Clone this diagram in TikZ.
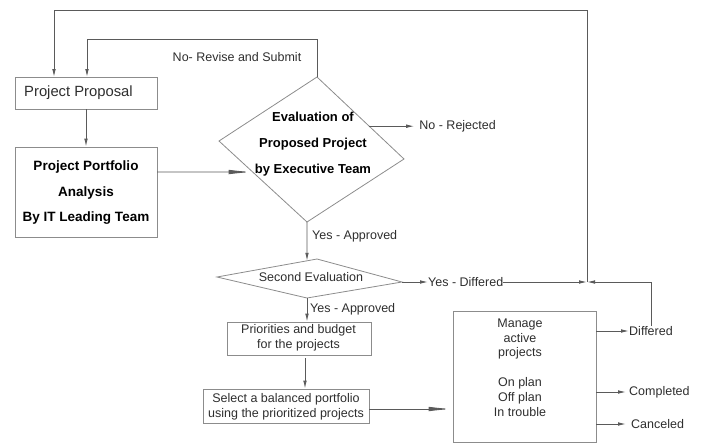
\documentclass[tikz,border=0pt]{standalone}
\usepackage{fontspec}
\setmainfont{Liberation Sans}
\usetikzlibrary{arrows.meta,calc}
\definecolor{linec}{HTML}{5A5A5A}
\definecolor{boxc}{HTML}{8C8C8C}
\definecolor{txtc}{HTML}{2E2E2E}
\begin{document}
\begin{tikzpicture}[x=1pt,y=-1pt,
  line/.style={draw=linec, line width=0.9pt},
  arr/.style={line, -{Latex[length=8pt,width=3.6pt]}},
  bigarr/.style={line, -{Latex[length=24pt,width=4.5pt]}},
  box/.style={draw=boxc, line width=0.8pt, rectangle, inner sep=0pt},
  dia/.style={draw=boxc, line width=0.8pt},
  lbl/.style={font=\fontsize{12.5}{15}\selectfont, text=txtc, inner sep=0pt},
  boldtxt/.style={font=\fontsize{13.5}{25.5}\selectfont\bfseries, text=black, inner sep=0pt, align=center},
  smalltxt/.style={font=\fontsize{12.5}{14.6}\selectfont, text=txtc, inner sep=0pt, align=center}
]
\useasboundingbox (0,0) rectangle (701,445);

% ---- boxes
\node[box, minimum width=142pt, minimum height=32pt] (pp) at (86,93) {};
\node[font=\fontsize{14.8}{17}\selectfont, text=txtc, inner sep=0pt, anchor=west] (pptxt) at (24,93) {Project Proposal};

\node[box, minimum width=142pt, minimum height=90pt] (ppa) at (86,192) {};
\node[boldtxt] (ppatxt) at (86,193) {Project Portfolio\\Analysis\\By IT Leading Team};

\node[box, minimum width=144pt, minimum height=33pt] (pri) at (299,338.5) {};
\node[smalltxt] (pritxt) at (298.5,338) {Priorities and budget\\for the projects};

\node[box, minimum width=166pt, minimum height=34pt] (sel) at (286,406) {};
\node[smalltxt] (seltxt) at (286,406.5) {Select a balanced portfolio\\using the prioritized projects};

\node[box, minimum width=143pt, minimum height=131pt] (man) at (524.5,376.5) {};
\node[smalltxt, font=\fontsize{12.5}{14.8}\selectfont] (mantxt) at (520,367.5) {Manage\\active\\projects\\[14.8pt]On plan\\Off plan\\In trouble};

% ---- diamond 1
\coordinate (d1T) at (317,77);
\coordinate (d1R) at (404,159);
\coordinate (d1B) at (307,222);
\coordinate (d1L) at (219,141);
\draw[dia] (d1T) -- (d1R) -- (d1B) -- (d1L) -- cycle;
\node[boldtxt, font=\fontsize{13}{26}\selectfont\bfseries] (d1txt) at (313,144.5) {Evaluation of\\Proposed Project\\by Executive Team};

% ---- diamond 2
\coordinate (d2T) at (317,259);
\coordinate (d2R) at (402,282);
\coordinate (d2B) at (307,298);
\coordinate (d2L) at (217,277);
\draw[dia] (d2T) -- (d2R) -- (d2B) -- (d2L) -- cycle;
\node[lbl] (d2txt) at (311,277.5) {Second Evaluation};

% ---- helper coordinates
\coordinate (J) at (587,282);
\coordinate (topL) at (54,10);
\coordinate (pp1) at (54,77);
\coordinate (pp2) at (87,77);
\coordinate (rev) at (317,39);
\coordinate (a1) at (157,172);
\coordinate (a1t) at ($(d1L)!0.383!(d1B)$);
\coordinate (rj) at ($(d1T)!0.6!(d1R)$);
\coordinate (d2in) at ($(d2L)!0.9!(d2T)$);
\coordinate (y409) at (0,409);
\coordinate (dfx) at (651,0);
\coordinate (px) at (305,0);

% ---- labels
\node[lbl] (revlbl) at (237,57) {No- Revise and Submit};
\node[lbl, anchor=west] (rejlbl) at ([xshift=50pt]rj) {No - Rejected};
\node[lbl, anchor=west] (ya1) at (312,236) {Yes - Approved};
\node[lbl, anchor=west] (ydlbl) at (428,282) {Yes - Differed};
\node[lbl, anchor=west] (ya2) at (310,309) {Yes - Approved};
\node[lbl, anchor=west] (dflbl) at (629,331) {Differed};
\node[lbl, anchor=west] (cmp) at (629,392) {Completed};
\node[lbl, anchor=west] (cnl) at (631,424) {Canceled};

% ---- connectors
\draw[arr] (J) -- (J |- topL) -- (topL) -- (pp1);
\draw[arr] (d1T) -- (rev) -- (rev -| pp2) -- (pp2);
\draw[arr] (pp) -- (ppa);
\draw[bigarr] (a1) -- (a1t);
\draw[arr] (rj) -- ([xshift=-5pt]rejlbl.west);
\draw[arr] (d1B) -- (d2in);
\draw[arr] (d2R) -- (ydlbl.west);
\draw[arr] (ydlbl.east) -- (J);
\draw[arr] (d2B) -- (d2B |- pri.north);
\draw[arr] ([yshift=-3pt]pri.south -| px) -- (sel.north -| px);
\draw[bigarr] (sel.east |- y409) -- (man.west |- y409);
\draw[arr] (man.east |- dflbl) -- (dflbl.west);
\draw[arr] (dfx |- dflbl.north) -- (dfx |- J) -- (J);
\draw[arr] (man.east |- cmp) -- ([xshift=-3pt]cmp.west);
\draw[arr] (man.east |- cnl) -- ([xshift=-5pt]cnl.west);
\end{tikzpicture}
\end{document}
